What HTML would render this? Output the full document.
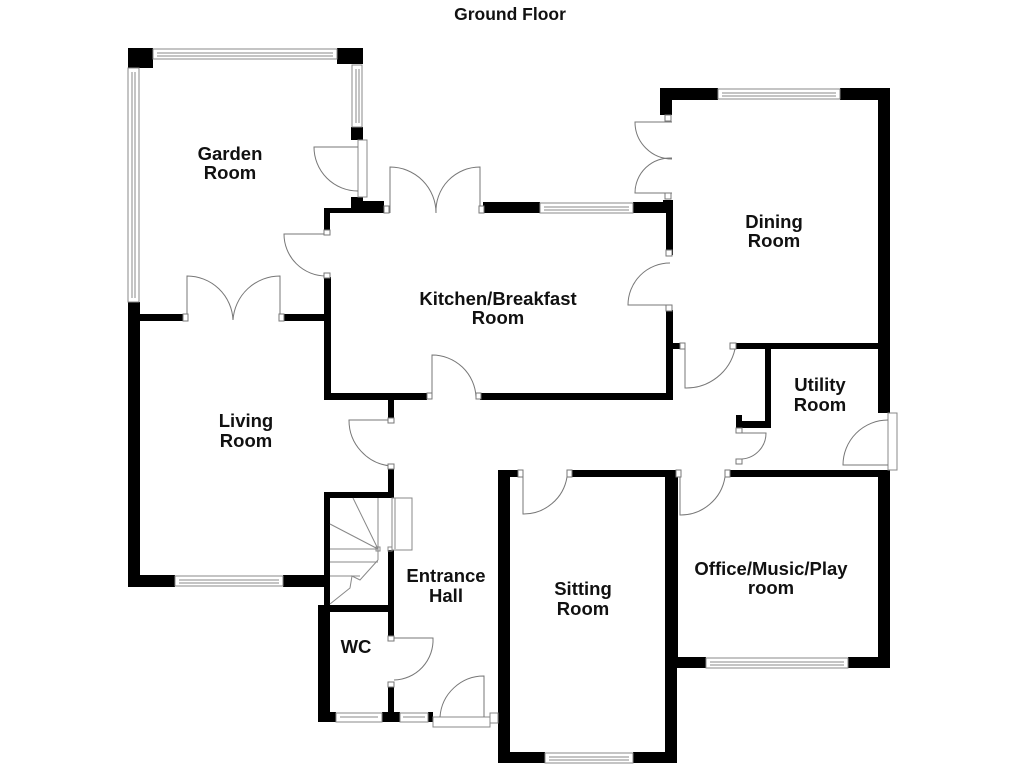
<!DOCTYPE html>
<html><head><meta charset="utf-8"><style>
html,body{margin:0;padding:0;background:#fff;width:1024px;height:768px;overflow:hidden}
svg{display:block}
text{font-family:"Liberation Sans",Arial,sans-serif;font-weight:bold;font-size:18.5px;fill:#111;text-anchor:middle}
</style></head><body>
<svg width="1024" height="768" viewBox="0 0 1024 768" xmlns="http://www.w3.org/2000/svg">
<text x="510" y="20" style="font-size:17.5px">Ground Floor</text>

<g fill="#000">
<rect x="128" y="48" width="25" height="20"/>
<rect x="337" y="48" width="26" height="16"/>
<rect x="351" y="127" width="12" height="13"/>
<rect x="351" y="197" width="12" height="10"/>
<rect x="351" y="201" width="33" height="12"/>
<rect x="324" y="208" width="6" height="22"/>
<rect x="324" y="208" width="30" height="5"/>
<rect x="128" y="302" width="12" height="285"/>
<rect x="140" y="314" width="43" height="7"/>
<rect x="283" y="314" width="47" height="7"/>
<rect x="324" y="277" width="7" height="123"/>
<rect x="324" y="393" width="103" height="7"/>
<rect x="480" y="393" width="193" height="7"/>
<rect x="483" y="202" width="57" height="11"/>
<rect x="633" y="202" width="37" height="11"/>
<rect x="663" y="200" width="10" height="13"/>
<rect x="666" y="200" width="7" height="55"/>
<rect x="666" y="310" width="7" height="90"/>
<rect x="660" y="88" width="58" height="12"/>
<rect x="660" y="88" width="12" height="27"/>
<rect x="840" y="88" width="50" height="12"/>
<rect x="878" y="88" width="12" height="325"/>
<rect x="673" y="343" width="7" height="6"/>
<rect x="735" y="343" width="155" height="6"/>
<rect x="765" y="347" width="6" height="81"/>
<rect x="736" y="421" width="35" height="7"/>
<rect x="736" y="415" width="6" height="13"/>
<rect x="729" y="470" width="161" height="7"/>
<rect x="878" y="470" width="12" height="198"/>
<rect x="667" y="470" width="11" height="198"/>
<rect x="667" y="657" width="39" height="11"/>
<rect x="848" y="657" width="42" height="11"/>
<rect x="498" y="470" width="22" height="7"/>
<rect x="570" y="470" width="102" height="7"/>
<rect x="498" y="470" width="12" height="293"/>
<rect x="665" y="470" width="12" height="293"/>
<rect x="498" y="752" width="47" height="11"/>
<rect x="633" y="752" width="44" height="11"/>
<rect x="388" y="400" width="6" height="18"/>
<rect x="388" y="468" width="6" height="30"/>
<rect x="324" y="492" width="70" height="6"/>
<rect x="324" y="492" width="6" height="120"/>
<rect x="388" y="550" width="6" height="62"/>
<rect x="324" y="605" width="70" height="7"/>
<rect x="128" y="575" width="47" height="12"/>
<rect x="283" y="575" width="47" height="12"/>
<rect x="318" y="605" width="12" height="117"/>
<rect x="388" y="612" width="6" height="26"/>
<rect x="388" y="685" width="6" height="37"/>
<rect x="318" y="712" width="18" height="10"/>
<rect x="382" y="712" width="18" height="10"/>
<rect x="428" y="712" width="5" height="10"/>
</g>

<g fill="#fff" stroke="#888" stroke-width="1">
<rect x="153" y="49" width="184" height="10"/><line x1="157" y1="53" x2="333" y2="53"/><line x1="157" y1="56" x2="333" y2="56"/>
<rect x="128" y="68" width="11" height="234"/><line x1="132" y1="72" x2="132" y2="298"/><line x1="135" y1="72" x2="135" y2="298"/>
<rect x="352" y="65" width="10" height="62"/><line x1="356" y1="69" x2="356" y2="123"/><line x1="359" y1="69" x2="359" y2="123"/>
<rect x="358" y="140" width="9" height="57"/>
<rect x="540" y="203" width="93" height="10"/><line x1="544" y1="207" x2="629" y2="207"/><line x1="544" y1="210" x2="629" y2="210"/>
<rect x="718" y="89" width="122" height="10"/><line x1="722" y1="93" x2="836" y2="93"/><line x1="722" y1="96" x2="836" y2="96"/>
<rect x="888" y="413" width="9" height="57"/>
<rect x="706" y="658" width="142" height="10"/><line x1="710" y1="662" x2="844" y2="662"/><line x1="710" y1="665" x2="844" y2="665"/>
<rect x="545" y="753" width="88" height="10"/><line x1="549" y1="757" x2="629" y2="757"/><line x1="549" y1="760" x2="629" y2="760"/>
<rect x="175" y="576" width="108" height="10"/><line x1="179" y1="580" x2="279" y2="580"/><line x1="179" y1="583" x2="279" y2="583"/>
<rect x="336" y="713" width="46" height="9"/><line x1="340" y1="717" x2="378" y2="717"/>
<rect x="400" y="713" width="28" height="9"/><line x1="403" y1="717" x2="425" y2="717"/>
<rect x="433" y="717" width="57" height="10"/>
<rect x="490" y="713" width="8" height="10"/>
</g>

<g fill="none" stroke="#777" stroke-width="1">
<path d="M358,147 L314,147 A44,44 0 0 0 358,191"/>
<path d="M326,234 L284,234 A42,42 0 0 0 326,276"/>
<path d="M390,213 L390,167 A46,46 0 0 1 436,213"/>
<path d="M480,213 L480,167 A44,44 0 0 0 436,213"/>
<path d="M187,320 L187,276 A46,46 0 0 1 233,320"/>
<path d="M280,320 L280,276 A47,47 0 0 0 233,320"/>
<path d="M432,397 L432,355 A44,44 0 0 1 476,397"/>
<path d="M670,305 L628,305 A42,42 0 0 1 670,263"/>
<path d="M672,122 L635,122 A37,37 0 0 0 672,159"/>
<path d="M672,193 L635,193 A35,35 0 0 1 672,158"/>
<path d="M685,349 L685,388 A50,50 0 0 0 735,349"/>
<path d="M742,433 L766,433 A26,26 0 0 1 742,459"/>
<path d="M888,465 L843,465 A45,45 0 0 1 888,420"/>
<path d="M680,477 L680,515 A45,45 0 0 0 725,477"/>
<path d="M523,477 L523,514 A44,44 0 0 0 567,477"/>
<path d="M391,420 L349,420 A46,46 0 0 0 391,466"/>
<path d="M394,638 L433,638 A40,40 0 0 1 394,680"/>
<path d="M484,717 L484,676 A44,44 0 0 0 440,717"/>
</g>
<g fill="#fff" stroke="#777" stroke-width="1">
<rect x="183" y="314" width="5" height="7"/><rect x="279" y="314" width="5" height="7"/>
<rect x="384" y="206" width="5" height="7"/><rect x="479" y="206" width="5" height="7"/>
<rect x="427" y="393" width="5" height="6"/><rect x="476" y="393" width="5" height="6"/>
<rect x="324" y="230" width="6" height="5"/><rect x="324" y="273" width="6" height="5"/>
<rect x="666" y="250" width="6" height="6"/><rect x="666" y="305" width="6" height="6"/>
<rect x="665" y="115" width="6" height="6"/><rect x="665" y="193" width="6" height="6"/>
<rect x="680" y="343" width="5" height="6"/><rect x="730" y="343" width="6" height="6"/>
<rect x="736" y="428" width="6" height="5"/><rect x="736" y="459" width="6" height="5"/>
<rect x="676" y="470" width="5" height="7"/><rect x="725" y="470" width="5" height="7"/>
<rect x="518" y="470" width="5" height="7"/><rect x="567" y="470" width="5" height="7"/>
<rect x="388" y="418" width="6" height="5"/><rect x="388" y="464" width="6" height="5"/>
<rect x="388" y="636" width="6" height="5"/><rect x="388" y="682" width="6" height="5"/>
</g>

<g fill="none" stroke="#888" stroke-width="1">
<rect x="392" y="498" width="20" height="52"/>
<line x1="378" y1="498" x2="378" y2="549"/>
<line x1="395" y1="498" x2="395" y2="549"/>
<line x1="378" y1="549" x2="353" y2="498"/>
<line x1="378" y1="549" x2="330" y2="524"/>
<line x1="330" y1="549" x2="378" y2="549"/>
<line x1="330" y1="562" x2="378" y2="562"/>
<line x1="330" y1="576" x2="360" y2="576"/>
<line x1="378" y1="549" x2="378" y2="560"/>
<path d="M378,560 L360,580 L352,576 L350,588 L330,604"/>
<rect x="376" y="547" width="4" height="4"/>
<rect x="388" y="547" width="4" height="4"/>
</g>

<text x="230" y="160">Garden</text><text x="230" y="179">Room</text>
<text x="498" y="305">Kitchen/Breakfast</text><text x="498" y="324">Room</text>
<text x="774" y="228">Dining</text><text x="774" y="247">Room</text>
<text x="820" y="391">Utility</text><text x="820" y="411">Room</text>
<text x="246" y="427">Living</text><text x="246" y="447">Room</text>
<text x="446" y="582">Entrance</text><text x="446" y="602">Hall</text>
<text x="583" y="595">Sitting</text><text x="583" y="615">Room</text>
<text x="771" y="575">Office/Music/Play</text><text x="771" y="594">room</text>
<text x="356" y="653">WC</text>
</svg>
</body></html>
